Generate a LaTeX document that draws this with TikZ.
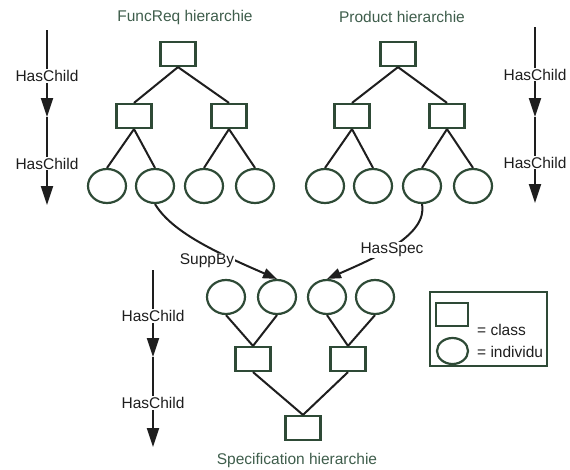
\documentclass[tikz,border=0pt]{standalone}
\usepackage{fontspec}
\setmainfont{Liberation Sans}
\usetikzlibrary{arrows.meta,shapes.geometric}
\definecolor{shapegreen}{HTML}{2E4A36}
\definecolor{titlegreen}{HTML}{3F5E4C}
\definecolor{ink}{HTML}{1E1E1E}
\begin{document}
\begin{tikzpicture}[x=1pt,y=-1pt,
  font=\fontsize{15.5}{18}\selectfont,
  cls/.style={draw=shapegreen,line width=2.2pt,fill=white,minimum width=35pt,minimum height=24pt,inner sep=0pt},
  ind/.style={draw=shapegreen,line width=2.2pt,fill=white,ellipse,minimum width=38pt,minimum height=34pt,inner sep=0pt},
  title/.style={text=titlegreen,inner sep=1pt},
  edge/.style={draw=ink,line width=2pt},
  rel/.style={draw=ink,line width=2pt,-{Triangle[length=14pt,width=10pt]}},
  haschild/.style={draw=ink,line width=2.2pt,-{Triangle[length=19pt,width=12pt]}},
  lbl/.style={text=ink,fill=white,inner sep=1pt},
]
\useasboundingbox (0,0) rectangle (570,469);
\fill[white] (0,0) rectangle (570,469);

% ---------- FuncReq hierarchy ----------
\node[title] (ftitle) at (185,17) {FuncReq hierarchie};
\node[cls] (ft)  at (178,54)  {};
\node[cls] (fm1) at (134,116) {};
\node[cls] (fm2) at (229,116) {};
\node[ind] (fa1) at (107,186) {};
\node[ind] (fa2) at (155,186) {};
\node[ind] (fa3) at (204,186) {};
\node[ind] (fa4) at (255,186) {};
\draw[edge] (ft.south) -- (fm1.north);
\draw[edge] (ft.south) -- (fm2.north);
\draw[edge] (fm1.south) -- (fa1.north);
\draw[edge] (fm1.south) -- (fa2.north);
\draw[edge] (fm2.south) -- (fa3.north);
\draw[edge] (fm2.south) -- (fa4.north);

% ---------- Product hierarchy ----------
\node[title] (ptitle) at (402,17) {Product hierarchie};
\node[cls] (pt)  at (398,54)  {};
\node[cls] (pm1) at (352,116) {};
\node[cls] (pm2) at (447,116) {};
\node[ind] (pa1) at (325,186) {};
\node[ind] (pa2) at (373,186) {};
\node[ind] (pa3) at (422,186) {};
\node[ind] (pa4) at (473,186) {};
\draw[edge] (pt.south) -- (pm1.north);
\draw[edge] (pt.south) -- (pm2.north);
\draw[edge] (pm1.south) -- (pa1.north);
\draw[edge] (pm1.south) -- (pa2.north);
\draw[edge] (pm2.south) -- (pa3.north);
\draw[edge] (pm2.south) -- (pa4.north);

% ---------- Specification hierarchy ----------
\node[ind] (sa1) at (226,297) {};
\node[ind] (sa2) at (277,297) {};
\node[ind] (sa3) at (327,297) {};
\node[ind] (sa4) at (375,297) {};
\node[cls] (sm1) at (253,359) {};
\node[cls] (sm2) at (348,359) {};
\node[cls] (sb)  at (303,428) {};
\node[title] (stitle) at (297,460) {Specification hierarchie};
\draw[edge] (sa1.south) -- (sm1.north);
\draw[edge] (sa2.south) -- (sm1.north);
\draw[edge] (sa3.south) -- (sm2.north);
\draw[edge] (sa4.south) -- (sm2.north);
\draw[edge] (sm1.south) -- (sb.north);
\draw[edge] (sm2.south) -- (sb.north);

% ---------- cross-hierarchy relations ----------
\draw[rel] (fa2.south) .. controls (172,232) and (215,252) .. (sa2.north);
\node[lbl] (suppby) at (207,261) {SuppBy};
\draw[rel] (pa3.south) .. controls (428,235) and (375,258) .. (sa3.north);
\node[lbl] (hasspec) at (392,250) {HasSpec};

% ---------- HasChild direction arrows ----------
\coordinate (l0) at (47,30);
\coordinate (l1) at (47,117);
\coordinate (l2) at (47,205);
\draw[haschild] (l0) -- node[lbl,pos=0.53] {HasChild} (l1);
\draw[haschild] (l1) -- node[lbl,pos=0.53] {HasChild} (l2);

\coordinate (r0) at (535,27);
\coordinate (r1) at (535,117);
\coordinate (r2) at (535,203);
\draw[haschild] (r0) -- node[lbl,pos=0.53] {HasChild} (r1);
\draw[haschild] (r1) -- node[lbl,pos=0.53] {HasChild} (r2);

\coordinate (m0) at (153,270);
\coordinate (m1) at (153,357);
\coordinate (m2) at (153,447);
\draw[haschild] (m0) -- node[lbl,pos=0.53] {HasChild} (m1);
\draw[haschild] (m1) -- node[lbl,pos=0.51] {HasChild} (m2);

% ---------- legend ----------
\node[draw=shapegreen,line width=2.2pt,minimum width=117pt,minimum height=74pt,inner sep=0pt] (legend) at (488.5,329) {};
\node[cls,minimum width=32pt,minimum height=23pt] (lcls) at (452,314.5) {};
\node[ind,minimum width=31pt,minimum height=26pt] (lind) at (452.5,351) {};
\node[anchor=base west,inner sep=0pt,text=ink] (lclstext) at (477,335) {= class};
\node[anchor=base west,inner sep=0pt,text=ink] (lindtext) at (477,357) {= individu};
\end{tikzpicture}
\end{document}
